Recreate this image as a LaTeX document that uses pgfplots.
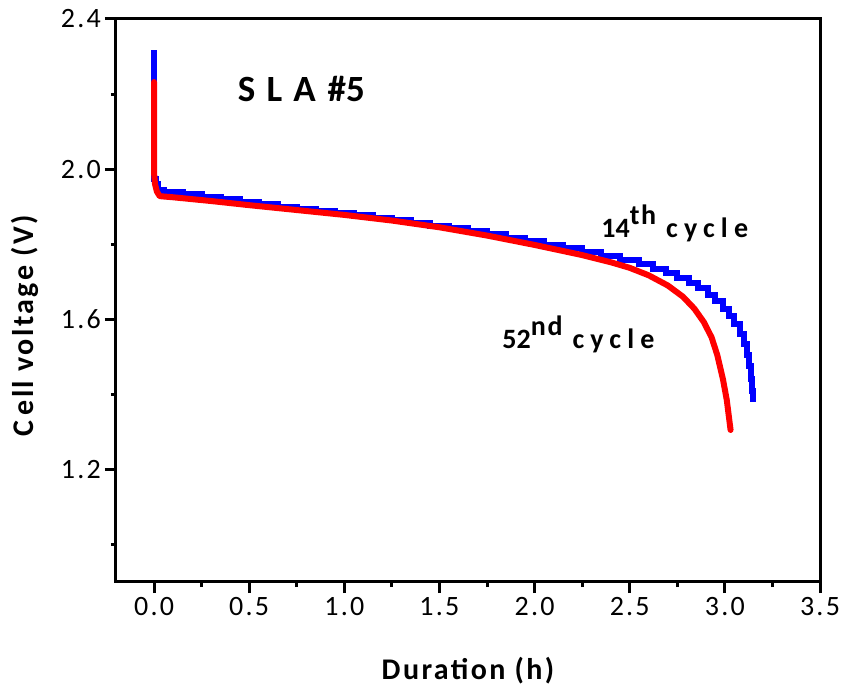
\documentclass[border=0pt]{standalone}
\usepackage{pgfplots}
\pgfplotsset{compat=1.18}
\usepackage{fontspec}
\setmainfont{Carlito}
\newfontfamily\tickfont[LetterSpace=8]{Carlito}
\newfontfamily\labfont[LetterSpace=8]{Carlito}
\newfontfamily\annfont[LetterSpace=22]{Carlito}
\newfontfamily\titfont[LetterSpace=30]{Carlito}
\definecolor{pblue}{RGB}{0,0,255}
\definecolor{pred}{RGB}{255,0,0}
\begin{document}
\begin{tikzpicture}
\useasboundingbox (-116pt,-108pt) rectangle (727pt,582pt);
\begin{axis}[
  at={(0pt,0pt)}, anchor=south west,
  scale only axis, width=704pt, height=563pt,
  xmin=-0.2, xmax=3.5, ymin=0.9, ymax=2.4,
  xtick={0,0.5,1,1.5,2,2.5,3,3.5},
  ytick={1.2,1.6,2.0,2.4},
  minor xtick={0.25,0.75,1.25,1.75,2.25,2.75,3.25},
  minor ytick={1.0,1.4,1.8,2.2},
  tick pos=left, tick align=outside,
  major tick length=11pt, minor tick length=5pt,
  every major tick/.append style={line width=3pt, black},
  every minor tick/.append style={line width=3pt, black},
  axis line style={line width=3pt},
  /pgf/number format/assume math mode=true,
  /pgf/number format/fixed, /pgf/number format/fixed zerofill,
  /pgf/number format/precision=1,
  ticklabel style={font=\fontsize{28}{32}\selectfont\tickfont},
  yticklabel style={inner sep=0pt, xshift=-4pt},
  xticklabel style={inner sep=0pt, yshift=-4pt},
  xlabel={Duration (h)},
  ylabel={C\hspace{5pt}ell voltage (V)},
  every axis x label/.style={at={(axis description cs:0.5,-0.174)}, anchor=base, font=\fontsize{30}{34}\selectfont\labfont\bfseries},
  every axis y label/.style={at={(axis description cs:-0.1165,0.455)}, rotate=90, anchor=base, font=\fontsize{30}{34}\selectfont\labfont\bfseries},
  clip=false,
]
\addplot[pblue, line width=6pt, const plot, line join=miter] coordinates {
(0,2.317) (0,1.975) (0.01,1.96) (0.02,1.945)
(0.05,1.940) (0.15,1.933) (0.25,1.926) (0.35,1.920) (0.45,1.913)
(0.55,1.906) (0.65,1.900) (0.75,1.894) (0.85,1.888) (0.95,1.883)
(1.05,1.877) (1.15,1.870) (1.25,1.864) (1.35,1.857) (1.45,1.849)
(1.55,1.842) (1.65,1.834) (1.75,1.826) (1.85,1.817) (1.95,1.808)
(2.05,1.798) (2.15,1.789) (2.25,1.779) (2.35,1.769) (2.45,1.758)
(2.55,1.746) (2.62,1.735) (2.69,1.722) (2.75,1.710) (2.81,1.696)
(2.86,1.682) (2.91,1.665) (2.95,1.648) (2.99,1.628) (3.02,1.610)
(3.05,1.588) (3.08,1.560) (3.10,1.535) (3.115,1.505) (3.125,1.475)
(3.135,1.44) (3.142,1.41) (3.146,1.38)
};
\addplot[pred, line width=6pt, line cap=round, line join=round] coordinates {
(0,2.232) (0.0,1.99) (0.005,1.96) (0.015,1.94) (0.03,1.928) (0.1,1.925)
(0.3,1.915) (0.5,1.904) (0.75,1.891) (1.0,1.878) (1.25,1.863)
(1.5,1.845) (1.75,1.823) (2.0,1.798) (2.25,1.771) (2.4,1.752)
(2.5,1.737) (2.6,1.717) (2.7,1.690) (2.78,1.660) (2.84,1.628)
(2.89,1.592) (2.93,1.552) (2.96,1.505) (2.99,1.440) (3.01,1.385)
(3.03,1.305)
};
\node[anchor=base west, inner sep=0pt, font=\fontsize{37}{41}\selectfont\bfseries] at (axis cs:0.44,2.179) {{\titfont\bfseries SLA}\hspace{12pt}\#5};
\node[anchor=base west, inner sep=0pt, font=\fontsize{28}{32}\selectfont\bfseries] at (axis cs:2.35,1.819) {14\raisebox{13pt}{\addfontfeatures{LetterSpace=6}th}\hspace{10pt}{\annfont\bfseries cycle}};
\node[anchor=base west, inner sep=0pt, font=\fontsize{28}{32}\selectfont\bfseries] at (axis cs:1.83,1.523) {52\raisebox{13pt}{\addfontfeatures{LetterSpace=6}nd}\hspace{10pt}{\annfont\bfseries cycle}};
\end{axis}
\end{tikzpicture}
\end{document}
